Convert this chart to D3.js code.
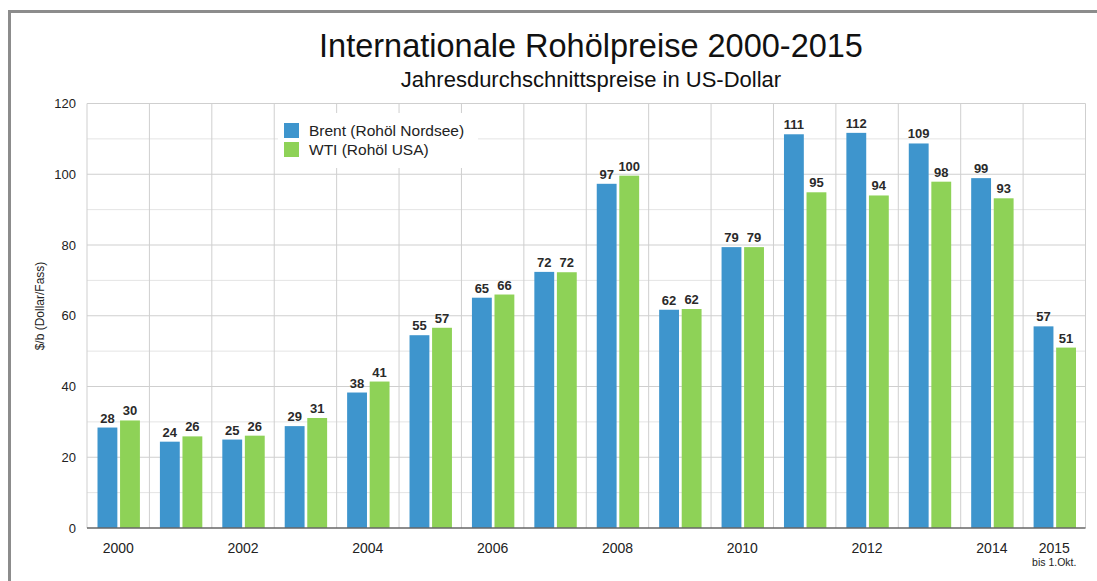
<!DOCTYPE html>
<html>
<head>
<meta charset="utf-8">
<script src="https://cdn.jsdelivr.net/npm/d3@7"></script>
<style>
  html, body { margin: 0; padding: 0; background: #fff; }
  svg { display: block; font-family: "Liberation Sans", Arial, Helvetica, sans-serif; }
</style>
</head>
<body>
<svg id="chart" width="1097" height="581"></svg>
<script>
// Annual average crude oil prices, US$ per barrel
const years = ["2000","2001","2002","2003","2004","2005","2006","2007",
               "2008","2009","2010","2011","2012","2013","2014","2015"];
const brent = [28.4, 24.4, 25.0, 28.8, 38.3, 54.5, 65.1, 72.4,
               97.3, 61.7, 79.4, 111.3, 111.7, 108.7, 98.9, 57.0];
const wti   = [30.4, 25.9, 26.1, 31.1, 41.4, 56.6, 66.0, 72.3,
               99.6, 61.9, 79.4, 94.9, 94.0, 97.9, 93.2, 51.0];
const yTicks = [0, 20, 40, 60, 80, 100, 120];
const yMinor = [10, 30, 50, 70, 90, 110];
const xLabels = ["2000","2002","2004","2006","2008","2010","2012","2014","2015"];
const seriesNames = ["Brent (Rohöl Nordsee)", "WTI (Rohöl USA)"];
const seriesKeys = ["brent", "wti"];
const colors = { brent: "#3e95cd", wti: "#8ed257" };

(function () {
const rows = years.map((yr, i) => ({ year: yr, brent: brent[i], wti: wti[i] }));

const svg = d3.select("#chart");
const plotL = 87, plotR = 1085.5, plotT = 103.5, plotB = 528;

// frame (left and top edge)
svg.append("path")
  .attr("d", `M9.5,581 L9.5,11.5 L1097,11.5`)
  .attr("fill", "none").attr("stroke", "#8c8c8c").attr("stroke-width", 3);

// titles
svg.append("text").attr("x", 591).attr("y", 57).attr("text-anchor", "middle")
  .attr("font-size", 32.5).attr("fill", "#111").text("Internationale Rohölpreise 2000-2015");
svg.append("text").attr("x", 591).attr("y", 87).attr("text-anchor", "middle")
  .attr("font-size", 22).attr("fill", "#111").text("Jahresdurchschnittspreise in US-Dollar");

const x = d3.scaleBand().domain(years).range([plotL, plotR]).padding(0);
const x1 = d3.scaleBand().domain(seriesKeys).range([10.5, x.bandwidth() - 9.5]).paddingInner(0.12);
const y = d3.scaleLinear().domain([0, 120]).range([plotB, plotT]);

// grid
const grid = svg.append("g");
grid.selectAll("line.minor").data(yMinor).join("line").attr("class", "minor")
  .attr("x1", plotL).attr("x2", plotR)
  .attr("y1", d => y(d)).attr("y2", d => y(d))
  .attr("stroke", "#e4e4e4").attr("stroke-width", 1);
grid.selectAll("line.major").data(yTicks.filter(d => d > 0)).join("line").attr("class", "major")
  .attr("x1", plotL).attr("x2", plotR)
  .attr("y1", d => y(d)).attr("y2", d => y(d))
  .attr("stroke", "#cfcfcf").attr("stroke-width", 1);
grid.selectAll("line.v").data(years.concat(["end"])).join("line").attr("class", "v")
  .attr("x1", d => d === "end" ? plotR : x(d)).attr("x2", d => d === "end" ? plotR : x(d))
  .attr("y1", plotT).attr("y2", plotB)
  .attr("stroke", "#cfcfcf").attr("stroke-width", 1);

// y axis
const yAxis = svg.append("g").attr("transform", `translate(${plotL},0)`)
  .call(d3.axisLeft(y).tickValues(yTicks).tickSize(0).tickPadding(11));
yAxis.select(".domain").remove();
yAxis.selectAll("text").attr("font-size", 13).attr("fill", "#222")
  .attr("font-family", "'Liberation Sans', Arial, sans-serif");

svg.append("text")
  .attr("transform", `translate(44,306) rotate(-90)`)
  .attr("text-anchor", "middle").attr("font-size", 12).attr("fill", "#222")
  .text("$/b (Dollar/Fass)");

// legend
const lg = svg.append("g");
lg.append("rect").attr("x", 278).attr("y", 113).attr("width", 200).attr("height", 55).attr("fill", "#fff");
seriesKeys.forEach((k, i) => {
  lg.append("rect").attr("x", 284).attr("y", 123 + i * 19).attr("width", 15).attr("height", 15)
    .attr("fill", colors[k]);
  lg.append("text").attr("x", 309).attr("y", 136 + i * 19).attr("font-size", 15.5).attr("fill", "#222")
    .text(seriesNames[i]);
});

// bars
const groups = svg.append("g").selectAll("g").data(rows).join("g")
  .attr("transform", d => `translate(${x(d.year)},0)`);
groups.selectAll("rect").data(d => seriesKeys.map(k => ({ key: k, value: d[k] }))).join("rect")
  .attr("x", d => x1(d.key)).attr("width", x1.bandwidth())
  .attr("y", d => y(d.value)).attr("height", d => y(0) - y(d.value))
  .attr("fill", d => colors[d.key]);
groups.selectAll("text").data(d => seriesKeys.map(k => ({ key: k, value: d[k] }))).join("text")
  .attr("x", d => x1(d.key) + x1.bandwidth() / 2)
  .attr("y", d => y(d.value) - 5)
  .attr("text-anchor", "middle").attr("font-size", 13).attr("font-weight", "bold")
  .attr("fill", "#2a2a2a")
  .text(d => Math.round(d.value));

// baseline
svg.append("line").attr("x1", plotL).attr("x2", plotR).attr("y1", plotB).attr("y2", plotB)
  .attr("stroke", "#666").attr("stroke-width", 1.5);

// x labels
const xl = svg.append("g");
xl.selectAll("text").data(xLabels).join("text")
  .attr("x", d => x(d) + x.bandwidth() / 2).attr("y", 553)
  .attr("text-anchor", "middle").attr("font-size", 14).attr("fill", "#222")
  .text(d => d);
xl.append("text").attr("x", x("2015") + x.bandwidth() / 2).attr("y", 566)
  .attr("text-anchor", "middle").attr("font-size", 10.5).attr("fill", "#222")
  .text("bis 1.Okt.");
})();
</script>
</body>
</html>
